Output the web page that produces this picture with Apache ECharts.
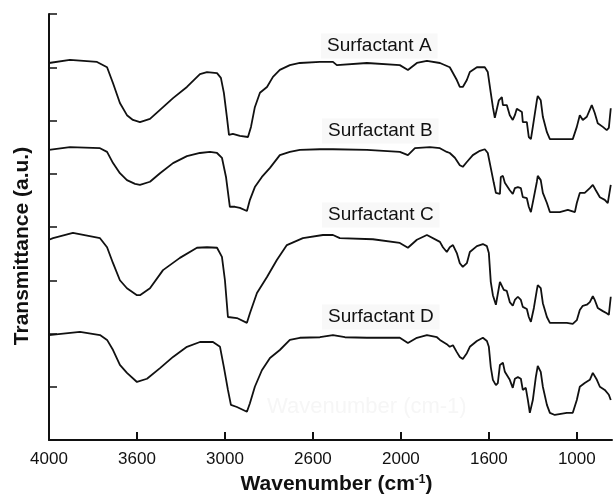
<!DOCTYPE html>
<html>
<head>
<meta charset="utf-8">
<title>FTIR spectra</title>
<script src="https://cdn.jsdelivr.net/npm/echarts@6/dist/echarts.min.js"></script>
<style>
    html, body { margin: 0; padding: 0; background: #fff; }
    #chart { width: 613px; height: 495px; }
</style>
</head>
<body>
<div id="chart"></div>
<script>
// wavenumber (cm-1), transmittance (a.u., curves stacked with an offset)
var surfactantA = [
    [4000, 7.08], [3881, 7.14], [3727, 7.10], [3670, 7.00], [3636, 6.70], [3597, 6.33], [3557, 6.10],
    [3523, 6.01], [3483, 5.97], [3426, 6.03], [3369, 6.20], [3295, 6.42], [3216, 6.63], [3142, 6.87],
    [3102, 6.91], [3045, 6.89], [3023, 6.80], [3006, 6.52], [2989, 6.07], [2977, 5.73], [2955, 5.75],
    [2915, 5.71], [2869, 5.69], [2852, 5.88], [2830, 6.25], [2801, 6.52], [2761, 6.63], [2727, 6.82],
    [2688, 6.95], [2631, 7.04], [2574, 7.08], [2460, 7.10], [2386, 7.10], [2364, 7.04], [2193, 7.08],
    [2006, 7.04], [1960, 6.95], [1909, 7.08], [1852, 7.12], [1778, 7.08], [1722, 7.00], [1682, 6.76],
    [1665, 6.63], [1648, 6.63], [1625, 6.76], [1608, 6.91], [1568, 7.00], [1523, 7.00], [1506, 6.91],
    [1489, 6.52], [1477, 6.25], [1466, 6.05], [1455, 6.05], [1443, 6.38], [1426, 6.44], [1420, 6.29],
    [1398, 6.29], [1381, 6.10], [1364, 6.01], [1352, 6.10], [1341, 6.22], [1312, 6.16], [1307, 5.97],
    [1284, 5.97], [1273, 5.69], [1261, 5.65], [1250, 5.88], [1227, 6.38], [1222, 6.46], [1205, 6.38],
    [1193, 6.07], [1170, 5.78], [1153, 5.65], [1023, 5.65], [1000, 5.88], [983, 6.10], [966, 6.01],
    [943, 6.07], [915, 6.29], [898, 6.14], [881, 5.95], [852, 5.88], [830, 5.82], [818, 5.86], [807, 6.23]
];

var surfactantB = [
    [4000, 5.45], [3881, 5.50], [3710, 5.48], [3670, 5.41], [3636, 5.20], [3597, 5.01], [3557, 4.88],
    [3511, 4.81], [3483, 4.79], [3426, 4.85], [3369, 5.01], [3295, 5.20], [3216, 5.33], [3142, 5.39],
    [3085, 5.41], [3045, 5.39], [3017, 5.30], [2994, 4.94], [2972, 4.38], [2943, 4.38], [2915, 4.36],
    [2875, 4.30], [2858, 4.51], [2830, 4.75], [2790, 4.94], [2744, 5.11], [2688, 5.35], [2631, 5.41],
    [2574, 5.45], [2460, 5.46], [2386, 5.46], [2193, 5.45], [2006, 5.41], [1960, 5.35], [1920, 5.48],
    [1835, 5.50], [1778, 5.48], [1739, 5.41], [1722, 5.39], [1693, 5.30], [1665, 5.16], [1648, 5.13],
    [1625, 5.22], [1591, 5.35], [1551, 5.43], [1523, 5.46], [1506, 5.39], [1489, 5.11], [1472, 4.83],
    [1460, 4.64], [1437, 4.62], [1432, 4.94], [1420, 4.96], [1409, 4.83], [1398, 4.83], [1381, 4.69],
    [1364, 4.62], [1352, 4.73], [1335, 4.75], [1318, 4.73], [1307, 4.56], [1284, 4.54], [1273, 4.38],
    [1261, 4.28], [1244, 4.56], [1227, 4.85], [1222, 4.96], [1205, 4.88], [1193, 4.64], [1170, 4.45],
    [1153, 4.28], [1097, 4.28], [1051, 4.32], [1011, 4.28], [1000, 4.45], [983, 4.64], [955, 4.64],
    [926, 4.73], [909, 4.79], [892, 4.69], [869, 4.56], [841, 4.51], [824, 4.45], [807, 4.79]
];

var surfactantC = [
    [4000, 3.76], [3977, 3.79], [3864, 3.89], [3710, 3.79], [3670, 3.62], [3636, 3.32], [3597, 3.00],
    [3557, 2.85], [3500, 2.72], [3483, 2.72], [3426, 2.85], [3352, 3.19], [3256, 3.42], [3159, 3.61],
    [3102, 3.62], [3045, 3.61], [3017, 3.44], [3000, 3.00], [2983, 2.31], [2932, 2.29], [2875, 2.20],
    [2858, 2.38], [2818, 2.76], [2761, 3.06], [2705, 3.38], [2648, 3.66], [2557, 3.79], [2443, 3.85],
    [2386, 3.85], [2347, 3.79], [2159, 3.77], [2006, 3.70], [1960, 3.61], [1909, 3.76], [1852, 3.85],
    [1778, 3.72], [1761, 3.62], [1739, 3.53], [1722, 3.62], [1704, 3.66], [1682, 3.51], [1665, 3.32],
    [1648, 3.25], [1625, 3.32], [1608, 3.53], [1568, 3.64], [1534, 3.68], [1511, 3.64], [1500, 3.51],
    [1489, 2.97], [1477, 2.72], [1460, 2.54], [1449, 2.57], [1437, 2.97], [1426, 3.00], [1415, 2.82],
    [1398, 2.80], [1381, 2.59], [1364, 2.52], [1352, 2.63], [1335, 2.69], [1318, 2.63], [1307, 2.50],
    [1284, 2.46], [1273, 2.31], [1261, 2.22], [1244, 2.48], [1227, 2.82], [1222, 2.91], [1205, 2.85],
    [1193, 2.57], [1170, 2.31], [1153, 2.20], [1097, 2.20], [1057, 2.20], [1023, 2.18], [1000, 2.25],
    [983, 2.44], [966, 2.52], [943, 2.54], [926, 2.59], [909, 2.70], [898, 2.63], [881, 2.48],
    [852, 2.42], [830, 2.38], [818, 2.35], [807, 2.69]
];

var surfactantD = [
    [4000, 1.97], [3824, 2.03], [3710, 1.97], [3670, 1.88], [3636, 1.69], [3597, 1.41], [3557, 1.26],
    [3500, 1.09], [3443, 1.15], [3369, 1.35], [3295, 1.56], [3216, 1.75], [3142, 1.84], [3068, 1.84],
    [3028, 1.75], [3006, 1.37], [2983, 0.94], [2966, 0.66], [2932, 0.62], [2875, 0.53], [2858, 0.69],
    [2830, 1.00], [2790, 1.31], [2744, 1.54], [2688, 1.69], [2631, 1.88], [2574, 1.92], [2460, 1.93],
    [2386, 1.97], [2318, 1.93], [2193, 1.92], [2006, 1.92], [1960, 1.82], [1909, 1.92], [1852, 1.97],
    [1795, 1.93], [1778, 1.88], [1739, 1.80], [1722, 1.75], [1704, 1.78], [1682, 1.65], [1665, 1.56],
    [1648, 1.52], [1625, 1.63], [1608, 1.75], [1568, 1.86], [1534, 1.92], [1511, 1.86], [1500, 1.75],
    [1489, 1.37], [1477, 1.13], [1460, 1.03], [1449, 1.07], [1437, 1.41], [1420, 1.45], [1409, 1.28],
    [1398, 1.26], [1381, 1.13], [1364, 0.98], [1352, 1.15], [1335, 1.18], [1318, 1.15], [1307, 0.94],
    [1290, 0.98], [1278, 0.75], [1267, 0.51], [1250, 0.75], [1233, 1.18], [1222, 1.39], [1205, 1.28],
    [1193, 1.00], [1170, 0.66], [1153, 0.51], [1125, 0.47], [1057, 0.51], [1023, 0.51], [1000, 0.75],
    [983, 1.00], [955, 1.07], [926, 1.13], [909, 1.26], [886, 1.13], [869, 1.00], [841, 0.94],
    [818, 0.85], [807, 0.75]
];

var seriesNames = ["Surfactant A", "Surfactant B", "Surfactant C", "Surfactant D"];
var tickValues = [4000, 3500, 3000, 2500, 2000, 1500, 1000];
var tickLabels = ["4000", "3600", "3000", "2600", "2000", "1600", "1000"];

var font = "Liberation Sans, Arial, sans-serif";
var labelPos = [[321, 46], [322, 131], [322, 215], [322, 317]];

var chart = echarts.init(document.getElementById("chart"), null, { renderer: "canvas" });

function curve(name, data)
{
    return {
        name: name,
        type: "line",
        data: data,
        symbol: "none",
        silent: true,
        animation: false,
        z: 3,
        lineStyle: { color: "#111", width: 1.8 }
    };
}

var labels = seriesNames.map(function(name, i) {
    return {
        type: "text",
        x: labelPos[i][0],
        y: labelPos[i][1],
        z: 2,
        style: {
            text: name,
            fontFamily: font,
            fontSize: 19,
            fill: "#111",
            verticalAlign: "middle",
            backgroundColor: "#f8f8f8",
            padding: [3, 6, 3, 6]
        }
    };
});

// faint ghost text visible in the original picture
labels.push({
    type: "text",
    x: 267,
    y: 407,
    z: 0,
    style: {
        text: "Wavenumber (cm-1)",
        fontFamily: font,
        fontSize: 22,
        fill: "#f6f6f6",
        verticalAlign: "middle"
    }
});

chart.setOption({
    backgroundColor: "#fff",
    animation: false,
    grid: { left: 49, right: 1, top: 14, bottom: 55, containLabel: false, outerBoundsMode: "none" },
    xAxis: {
        type: "value",
        inverse: true,
        min: 800,
        max: 4000,
        name: "Wavenumber (cm{sup|-1})",
        nameLocation: "middle",
        nameGap: 34,
        nameTextStyle: {
            fontFamily: font,
            fontSize: 21,
            fontWeight: "bold",
            color: "#111",
            padding: [0, 0, 0, 12],
            rich: {
                sup: { fontFamily: font, fontSize: 12, fontWeight: "bold", color: "#111", verticalAlign: "top", padding: [0, 0, 8, 0] }
            }
        },
        axisLine: { lineStyle: { color: "#111", width: 2 } },
        axisTick: { inside: true, length: 8, customValues: tickValues, lineStyle: { color: "#111", width: 2 } },
        axisLabel: {
            customValues: tickValues,
            margin: 11,
            fontFamily: font,
            fontSize: 17,
            color: "#111",
            formatter: function(v) {
                var i = tickValues.indexOf(v);
                return i >= 0 ? tickLabels[i] : "";
            }
        },
        splitLine: { show: false }
    },
    yAxis: {
        type: "value",
        min: 0,
        max: 8,
        interval: 1,
        name: "Transmittance (a.u.)",
        nameLocation: "middle",
        nameGap: 16,
        nameRotate: 90,
        nameTextStyle: {
            fontFamily: font,
            fontSize: 21,
            fontWeight: "bold",
            color: "#111",
            padding: [0, 38, 0, 0]
        },
        axisLine: { show: true, lineStyle: { color: "#111", width: 2 } },
        axisTick: { show: true, inside: true, length: 8, lineStyle: { color: "#111", width: 1.5 } },
        axisLabel: { show: false },
        splitLine: { show: false }
    },
    graphic: labels,
    series: [
        curve(seriesNames[0], surfactantA),
        curve(seriesNames[1], surfactantB),
        curve(seriesNames[2], surfactantC),
        curve(seriesNames[3], surfactantD)
    ]
});
</script>
</body>
</html>
